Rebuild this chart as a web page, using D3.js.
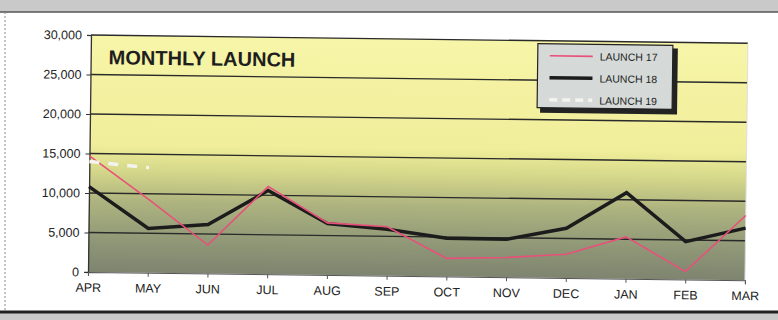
<!DOCTYPE html>
<html><head><meta charset="utf-8">
<script src="https://cdn.jsdelivr.net/npm/d3@7"></script>
<style>body{margin:0;background:#fff;}svg{display:block;font-family:"Liberation Sans",Arial,sans-serif;}</style>
</head><body><div id="chart"></div>
<script>
const months = ["APR","MAY","JUN","JUL","AUG","SEP","OCT","NOV","DEC","JAN","FEB","MAR"];
const launch17 = [14700,9300,3600,11100,6600,6200,2300,2500,3000,5300,1000,8200];
const launch18 = [10800,5600,6200,10600,6500,5900,4850,4800,6300,10900,4800,6600];
const launch19 = [14000,13300];
const yTicks = [0,5000,10000,15000,20000,25000,30000];
const seriesNames = ["LAUNCH 17","LAUNCH 18","LAUNCH 19"];

const W=778,H=320;
const svg=d3.select("#chart").append("svg").attr("width",W).attr("height",H);

// scan frame
svg.append("rect").attr("x",0).attr("y",0).attr("width",W).attr("height",12).attr("fill","#c9c9c9");
svg.append("line").attr("x1",0).attr("x2",W).attr("y1",12).attr("y2",12).attr("stroke","#555").attr("stroke-width",1.5);
svg.append("line").attr("x1",5).attr("x2",5).attr("y1",12).attr("y2",H).attr("stroke","#888").attr("stroke-dasharray","2,2");
svg.append("rect").attr("x",0).attr("y",312).attr("width",W).attr("height",8).attr("fill","#c9c9c9");
svg.append("line").attr("x1",0).attr("x2",W).attr("y1",312).attr("y2",312).attr("stroke","#222").attr("stroke-width",3);

const L=88,R=745,T=35,B=272;
const g=svg.append("g").attr("transform",`rotate(0.72,${L},${B})`);

const x=d3.scalePoint().domain(months).range([L,R]).padding(0);
const y=d3.scaleLinear().domain([0,30000]).range([B,T]);

const defs=svg.append("defs");
const grad=defs.append("linearGradient").attr("id","bg").attr("x1",0).attr("x2",0).attr("y1",0).attr("y2",1);
[["0%","#f7f5a8"],["46%","#f0ee9a"],["57%","#d5d88a"],["70%","#aeb47f"],["85%","#929a78"],["100%","#7e846f"]]
  .forEach(s=>grad.append("stop").attr("offset",s[0]).attr("stop-color",s[1]));

g.append("rect").attr("x",L).attr("y",T).attr("width",R-L).attr("height",B-T).attr("fill","url(#bg)");

// gridlines
g.append("g").selectAll("line").data(yTicks.filter(d=>d>0)).join("line")
  .attr("x1",L).attr("x2",R).attr("y1",d=>y(d)).attr("y2",d=>y(d))
  .attr("stroke","#2a2a2a").attr("stroke-width",1.3);
g.append("line").attr("x1",R).attr("x2",R).attr("y1",T).attr("y2",B).attr("stroke","#ddd").attr("stroke-width",1);

// axes
const ya=g.append("g").attr("transform",`translate(${L},0)`)
  .call(d3.axisLeft(y).tickValues(yTicks).tickFormat(d3.format(",")).tickSize(4).tickPadding(5));
ya.select(".domain").attr("stroke","#333").attr("stroke-width",1.3);
ya.selectAll("text").attr("font-size",12.5).attr("fill","#222");
ya.selectAll(".tick line").attr("stroke","#333");

const xa=g.append("g").attr("transform",`translate(0,${B})`)
  .call(d3.axisBottom(x).tickSize(4).tickPadding(7));
xa.select(".domain").attr("stroke","#555").attr("stroke-width",1);
xa.selectAll("text").attr("font-size",12.5).attr("fill","#222");
xa.selectAll(".tick line").attr("stroke","#555");

// title
g.append("text").attr("x",106).attr("y",64).text("MONTHLY LAUNCH")
  .attr("font-size",20).attr("font-weight","bold").attr("fill","#1e1e1e");

const line=d3.line().x((d,i)=>x(months[i])).y(d=>y(d));
g.append("path").datum(launch18).attr("d",line).attr("fill","none")
  .attr("stroke","#1c1c1c").attr("stroke-width",3.5).attr("stroke-linejoin","miter");
g.append("path").datum(launch17).attr("d",line).attr("fill","none")
  .attr("stroke","#e8507a").attr("stroke-width",1.6);
g.append("path").datum(launch19).attr("d",line).attr("fill","none")
  .attr("stroke","#f4f4ee").attr("stroke-width",3.5).attr("stroke-dasharray","10,9");

// legend
const lg=g.append("g").attr("transform","translate(535,38)");
lg.append("rect").attr("x",3).attr("y",3).attr("width",137).attr("height",66).attr("fill","#222");
lg.append("rect").attr("x",0).attr("y",0).attr("width",135).attr("height",64).attr("fill","#d5dad8").attr("stroke","#222").attr("stroke-width",1.2);
const styles=[{c:"#e8507a",w:1.6,d:null},{c:"#1c1c1c",w:3.5,d:null},{c:"#f4f4ee",w:3.5,d:"8,5"}];
seriesNames.forEach((n,i)=>{
  const yy=12+i*22;
  lg.append("line").attr("x1",12).attr("x2",55).attr("y1",yy).attr("y2",yy)
    .attr("stroke",styles[i].c).attr("stroke-width",styles[i].w).attr("stroke-dasharray",styles[i].d);
  lg.append("text").attr("x",62).attr("y",yy+4).text(n).attr("font-size",10.5).attr("fill","#222");
});
</script></body></html>
